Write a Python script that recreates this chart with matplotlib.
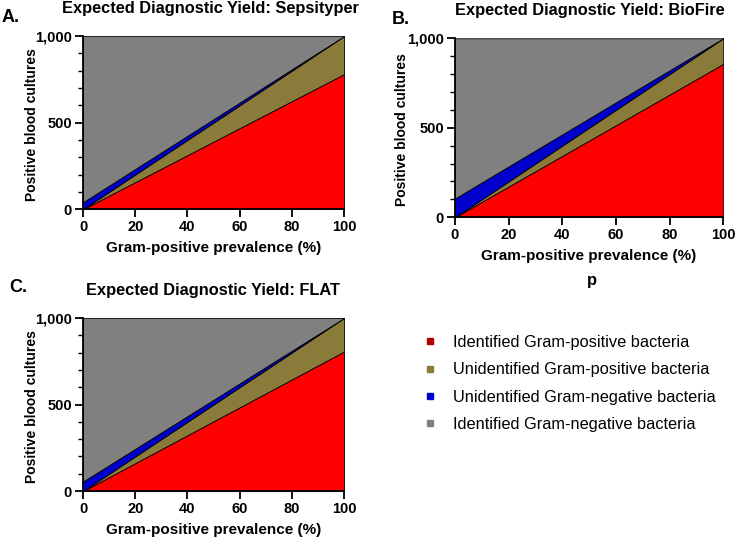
import matplotlib
matplotlib.use("Agg")
import matplotlib.pyplot as plt
from matplotlib.ticker import MultipleLocator, FuncFormatter
from matplotlib.lines import Line2D

plt.rcParams['font.family'] = ['Liberation Sans', 'DejaVu Sans']

prevalence = [0, 100]

# layer thicknesses at prevalence 0% and 100%
sepsityper_id_gp = [0, 780]
sepsityper_unid_gp = [0, 220]
sepsityper_unid_gn = [40, 0]
sepsityper_id_gn = [960, 0]

biofire_id_gp = [0, 857]
biofire_unid_gp = [0, 143]
biofire_unid_gn = [105, 0]
biofire_id_gn = [895, 0]

flat_id_gp = [0, 806]
flat_unid_gp = [0, 194]
flat_unid_gn = [55, 0]
flat_id_gn = [945, 0]

series_labels = ["Identified Gram-positive bacteria",
                 "Unidentified Gram-positive bacteria",
                 "Unidentified Gram-negative bacteria",
                 "Identified Gram-negative bacteria"]
area_colors = ["#FF0000", "#8B7B3B", "#0000CC", "#808080"]
legend_colors = ["#B00000", "#8B7B3B", "#0000CC", "#808080"]

fig = plt.figure(figsize=(7.35, 5.39), dpi=100)

def panel(rect, layers, title, title_xy, letter, letter_xy):
    ax = fig.add_axes(rect)
    ax.stackplot(prevalence, *layers, colors=area_colors,
                 edgecolor="black", linewidth=0.6)
    ax.set_xlim(0, 100)
    ax.set_ylim(0, 1000)
    ax.set_xticks([0, 20, 40, 60, 80, 100])
    ax.yaxis.set_major_locator(MultipleLocator(500))
    ax.yaxis.set_minor_locator(MultipleLocator(100))
    ax.yaxis.set_major_formatter(FuncFormatter(lambda v, p: f"{int(v):,}"))
    for s in ["top", "right"]:
        ax.spines[s].set_visible(False)
    for s in ["left", "bottom"]:
        ax.spines[s].set_linewidth(1.3)
    ax.tick_params(axis="both", which="major", length=6, width=1.3,
                   labelsize=10.5, pad=2)
    ax.tick_params(axis="y", which="minor", length=3.5, width=1.0)
    for lab in ax.get_xticklabels() + ax.get_yticklabels():
        lab.set_fontweight("bold")
    ax.set_xlabel("Gram-positive prevalence (%)", fontsize=11,
                  fontweight="bold", labelpad=5)
    ax.set_ylabel("Positive blood cultures", fontsize=10,
                  fontweight="bold")
    ax.yaxis.set_label_coords(-0.17, 0.49)
    fig.text(title_xy[0], title_xy[1], title, fontsize=11.8,
             fontweight="bold", ha="center", va="center")
    fig.text(letter_xy[0], letter_xy[1], letter, fontsize=13,
             fontweight="bold", ha="left", va="center")
    return ax

panel([0.113, 0.612, 0.355, 0.321],
      [sepsityper_id_gp, sepsityper_unid_gp, sepsityper_unid_gn, sepsityper_id_gn],
      "Expected Diagnostic Yield: Sepsityper", (210/735, 1 - 9/539),
      "A.", (2/735, 1 - 18/539))
panel([0.619, 0.597, 0.365, 0.332],
      [biofire_id_gp, biofire_unid_gp, biofire_unid_gn, biofire_id_gn],
      "Expected Diagnostic Yield: BioFire", (590/735, 1 - 11/539),
      "B.", (392/735, 1 - 20/539))
panel([0.113, 0.089, 0.355, 0.321],
      [flat_id_gp, flat_unid_gp, flat_unid_gn, flat_id_gn],
      "Expected Diagnostic Yield: FLAT", (213/735, 1 - 290/539),
      "C.", (9/735, 1 - 288/539))

fig.text(592/735, 1 - 281/539, "p", fontsize=12, fontweight="bold",
         ha="center", va="center")

handles = [Line2D([], [], marker="s", linestyle="none", markersize=5,
                  markerfacecolor=c, markeredgecolor=c) for c in legend_colors]
fig.legend(handles, series_labels, loc="upper left",
           bbox_to_anchor=(414/735, 1 - 327/539), frameon=False,
           fontsize=11.8, handletextpad=0.9, labelspacing=0.75,
           borderpad=0, handlelength=1.0)

fig.savefig("out.png", dpi=100)
